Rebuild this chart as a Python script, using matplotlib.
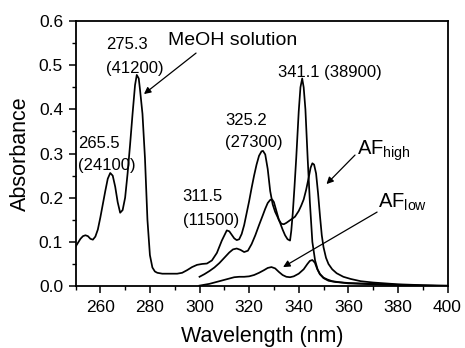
import matplotlib
matplotlib.use("Agg")
import matplotlib.pyplot as plt
from matplotlib.ticker import MultipleLocator

plt.rcParams['font.family'] = ['Liberation Sans', 'DejaVu Sans']
plt.rcParams['mathtext.fontset'] = 'custom'
plt.rcParams['mathtext.rm'] = 'Liberation Sans'
plt.rcParams['mathtext.it'] = 'Liberation Sans:italic'

# ---- data ----
wl_meoh = [250, 251, 252, 253, 254, 255, 256, 257, 258, 259, 260, 261, 262, 263, 264, 265,
           266, 267, 268, 269, 270, 271, 272, 273, 274, 274.7, 275.5, 276, 277, 278, 279,
           280, 281, 282, 283, 285, 288, 291, 293, 295, 297, 299, 301, 303, 305, 307, 309,
           311, 312, 313, 314, 315, 316, 317, 318, 319, 320, 321, 322, 323, 324, 325, 325.6,
           326.5, 327.5, 328.5, 329.5, 330.5, 331.5, 332.5, 333.5, 334.5, 335.5, 336.5,
           337, 337.6, 338.3, 339, 340, 340.7, 341.4, 342, 342.7, 343.6, 344.5, 345.5,
           346.6, 347.6, 348.6, 350, 351.5, 353.5, 356, 360, 365, 370, 375, 380, 390, 400]
abs_meoh = [0.089, 0.098, 0.107, 0.113, 0.115, 0.113, 0.107, 0.105, 0.112, 0.128, 0.155,
            0.185, 0.215, 0.243, 0.256, 0.250, 0.225, 0.190, 0.166, 0.172, 0.200, 0.255,
            0.320, 0.390, 0.455, 0.478, 0.470, 0.445, 0.390, 0.290, 0.150, 0.070, 0.042,
            0.033, 0.030, 0.028, 0.028, 0.028, 0.030, 0.036, 0.043, 0.048, 0.050, 0.051,
            0.058, 0.075, 0.103, 0.126, 0.124, 0.116, 0.108, 0.104, 0.106, 0.118, 0.138,
            0.165, 0.192, 0.222, 0.250, 0.275, 0.295, 0.305, 0.306, 0.298, 0.265, 0.215,
            0.185, 0.168, 0.156, 0.143, 0.128, 0.115, 0.106, 0.103, 0.125, 0.165, 0.225,
            0.290, 0.395, 0.450, 0.470, 0.450, 0.400, 0.290, 0.190, 0.100, 0.058, 0.038,
            0.027, 0.019, 0.015, 0.011, 0.009, 0.006, 0.005, 0.004, 0.003, 0.002, 0.001, 0.000]

wl_high = [300, 302, 304, 306, 308, 310, 312, 313.5, 315, 316.5, 318, 319.5, 321, 322.5,
           324, 325.5, 326.5, 327.5, 328.5, 329.3, 330, 331, 332, 333, 334, 335, 336, 337,
           338.5, 340, 341, 342, 343, 344, 344.8, 345.5, 346.2, 347, 347.8, 348.6, 349.3,
           350, 351, 352, 353.5, 355.3, 358, 361, 365, 370, 375, 380, 385, 390, 400]
abs_high = [0.021, 0.027, 0.034, 0.042, 0.052, 0.064, 0.076, 0.083, 0.085, 0.082, 0.077,
            0.080, 0.095, 0.115, 0.138, 0.160, 0.175, 0.188, 0.195, 0.196, 0.190, 0.170,
            0.150, 0.141, 0.140, 0.143, 0.147, 0.151, 0.157, 0.170, 0.182, 0.196, 0.218,
            0.245, 0.268, 0.278, 0.275, 0.255, 0.210, 0.157, 0.115, 0.088, 0.064, 0.050,
            0.038, 0.029, 0.021, 0.016, 0.011, 0.008, 0.006, 0.004, 0.003, 0.002, 0.001]

wl_low = [300, 302, 304, 306, 308, 310, 312, 314, 316, 318, 320, 322, 324, 326, 327.5, 329,
          330.5, 332, 333.5, 335, 336.5, 338, 340, 342, 343.5, 344.5, 345.5, 346.5, 347.5,
          348.5, 350, 352, 355, 360, 365, 370, 375, 380, 390, 400]
abs_low = [0.001, 0.003, 0.005, 0.008, 0.011, 0.014, 0.017, 0.020, 0.021, 0.021, 0.022,
           0.025, 0.030, 0.036, 0.041, 0.043, 0.040, 0.032, 0.025, 0.021, 0.020, 0.022,
           0.028, 0.038, 0.050, 0.057, 0.059, 0.053, 0.038, 0.027, 0.018, 0.012, 0.009,
           0.007, 0.006, 0.005, 0.004, 0.003, 0.001, 0.000]

x_ticks = [260, 280, 300, 320, 340, 360, 380, 400]
y_ticks = [0.0, 0.1, 0.2, 0.3, 0.4, 0.5, 0.6]

# ---- figure ----
fig = plt.figure(figsize=(4.65, 3.48), dpi=100)
ax = fig.add_axes([0.1624, 0.178, 0.80, 0.7615])

for w, a in [(wl_meoh, abs_meoh), (wl_high, abs_high), (wl_low, abs_low)]:
    ax.plot(w, a, color='black', lw=1.25)

ax.set_xlim(250, 400)
ax.set_ylim(0.0, 0.6)
ax.set_xticks(x_ticks)
ax.set_yticks(y_ticks)
ax.set_yticklabels([f"{v:.1f}" for v in y_ticks])
ax.xaxis.set_minor_locator(MultipleLocator(10))
ax.yaxis.set_minor_locator(MultipleLocator(0.05))
ax.tick_params(which='major', direction='out', length=5, width=1.1, labelsize=12.5, pad=4)
ax.tick_params(which='minor', direction='out', length=3, width=1.0)
ax.tick_params(axis='x', which='major', pad=5)
for s in ax.spines.values():
    s.set_linewidth(1.3)

fig.text(262.5 / 465, 1 - 342 / 348, 'Wavelength (nm)', ha='center', va='baseline', fontsize=15.5)
fig.text(20 / 465, 1 - 153.5 / 348, 'Absorbance', ha='center', va='center', rotation=90, fontsize=15.5)

# ---- annotations ----
fs = 12
ax.text(262.3, 0.5366, '275.3', fontsize=fs, ha='left', va='baseline')
ax.text(262.3, 0.483, '(41200)', fontsize=fs, ha='left', va='baseline')
ax.text(251.1, 0.3132, '265.5', fontsize=fs, ha='left', va='baseline')
ax.text(251.1, 0.2626, '(24100)', fontsize=fs, ha='left', va='baseline')
ax.text(293.2, 0.1932, '311.5', fontsize=fs, ha='left', va='baseline')
ax.text(293.2, 0.1381, '(11500)', fontsize=fs, ha='left', va='baseline')
ax.text(310.5, 0.3656, '325.2', fontsize=fs, ha='left', va='baseline')
ax.text(310.3, 0.3154, '(27300)', fontsize=fs, ha='left', va='baseline')
ax.text(331.7, 0.4725, '341.1 (38900)', fontsize=fs, ha='left', va='baseline')
ax.text(287.4, 0.5466, 'MeOH solution', fontsize=14, ha='left', va='baseline')
ax.text(363.5, 0.2981, r'AF$_{\mathrm{high}}$', fontsize=14.5, ha='left', va='baseline')
ax.text(372.0, 0.1773, r'AF$_{\mathrm{low}}$', fontsize=14.5, ha='left', va='baseline')

arrow = dict(arrowstyle='-|>', color='black', lw=0.9, mutation_scale=10, shrinkA=0, shrinkB=0)
ax.annotate('', xy=(277.6, 0.4347), xytext=(298.6, 0.5275), arrowprops=arrow)
ax.annotate('', xy=(351.2, 0.2309), xytext=(362.7, 0.2966), arrowprops=arrow)
ax.annotate('', xy=(333.7, 0.043), xytext=(371.6, 0.1675), arrowprops=arrow)

fig.savefig('out.png', dpi=100)
